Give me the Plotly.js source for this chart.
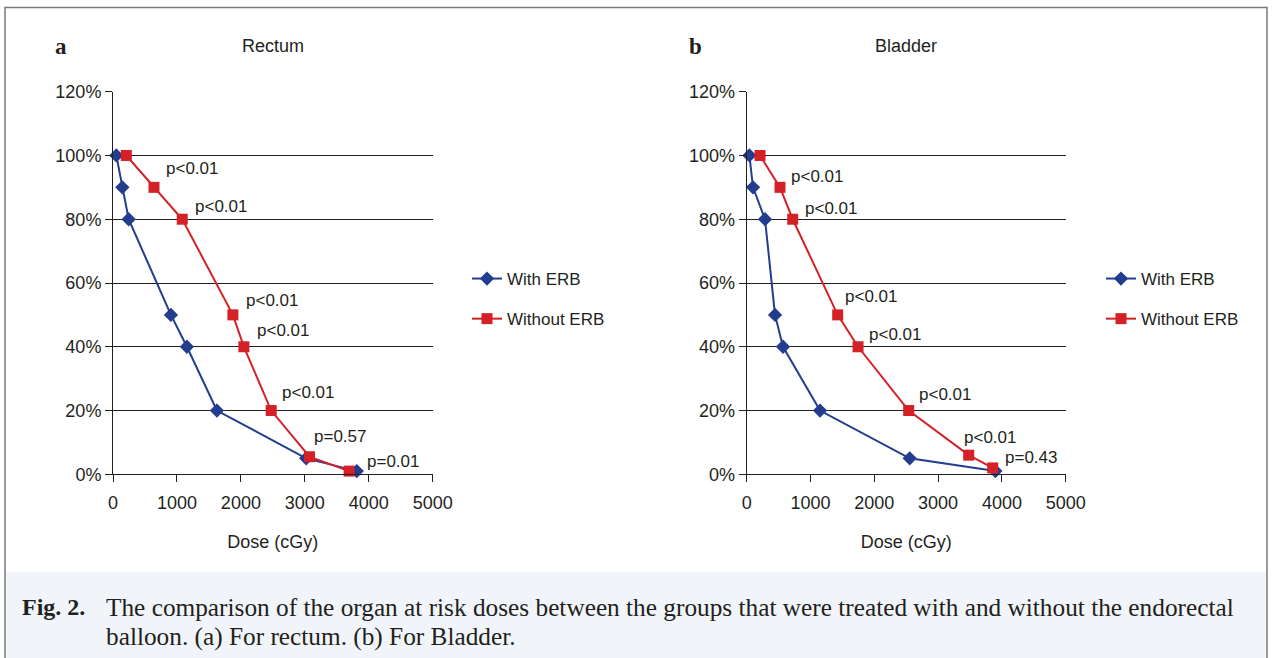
<!DOCTYPE html>
<html>
<head>
<meta charset="utf-8">
<script src="https://cdn.plot.ly/plotly-3.0.1.min.js"></script>
<style>html,body{margin:0;padding:0;background:#fff;}#chart{width:1272px;height:658px;}</style>
</head>
<body>
<div id="chart"></div>
<script>
// ---- data ----
const rectumWithDose    = [52, 146, 245, 906, 1156, 1625, 3021, 3813];
const rectumWithVol     = [100, 90, 80, 50, 40, 20, 5, 1];
const rectumWithoutDose = [208, 641, 1083, 1875, 2047, 2474, 3073, 3693];
const rectumWithoutVol  = [100, 90, 80, 50, 40, 20, 5.5, 1];
const rectumP = ["", "p<0.01", "p<0.01", "p<0.01", "p<0.01", "p<0.01", "p=0.57", "p=0.01"];

const bladderWithDose    = [42, 99, 287, 444, 569, 1149, 2555, 3898];
const bladderWithVol     = [100, 90, 80, 50, 40, 20, 5, 1];
const bladderWithoutDose = [209, 522, 721, 1426, 1745, 2539, 3480, 3856];
const bladderWithoutVol  = [100, 90, 80, 50, 40, 20, 6, 2];
const bladderP = ["", "p<0.01", "p<0.01", "p<0.01", "p<0.01", "p<0.01", "p<0.01", "p=0.43"];

const seriesNames = ["With ERB", "Without ERB"];
const panelTitles = ["Rectum", "Bladder"];
const panelLetters = ["a", "b"];
const xTitle = "Dose (cGy)";
const captionLabel = "Fig. 2.";
const captionLines = [
  "The comparison of the organ at risk doses between the groups that were treated with and without the endorectal",
  "balloon. (a) For rectum. (b) For Bladder."
];

// label pixel offsets (style only)
const rectumShift  = [[0,0],[10,19],[11,13],[11,14],[11,16],[9,18],[3,20],[16,10]];
const bladderShift = [[0,0],[9,11],[10,11],[5,18],[9,12],[8,16],[-7,18],[10,10]];

// ---- styling ----
const W = 1272, H = 658;
const BLUE = "#233d8e", RED = "#d42027";
const FONT = "Liberation Sans, Arial, sans-serif";
const SERIF = "Liberation Serif, Times New Roman, serif";
const INK = "#231f20";

function px(v){ return v / W; }
function py(v){ return (H - v) / H; }

const yDom = [py(474.3), py(91.7)];
const xDom1 = [px(113), px(432.7)];
const xDom2 = [px(746.7), px(1065.7)];

function blueTrace(x, y, xa, ya, lg){
  return {x, y, xaxis: xa, yaxis: ya, legend: lg, legendgroup: lg + "a", name: seriesNames[0],
    mode: "lines+markers", line: {color: BLUE, width: 2},
    marker: {symbol: "diamond", size: 11, color: BLUE}, cliponaxis: false};
}
function redTrace(x, y, xa, ya, lg){
  return {x, y, xaxis: xa, yaxis: ya, legend: lg, legendgroup: lg + "b", name: seriesNames[1],
    mode: "lines+markers", line: {color: RED, width: 2},
    marker: {symbol: "square", size: 11, color: RED}, cliponaxis: false};
}

const data = [
  blueTrace(rectumWithDose, rectumWithVol, "x", "y", "legend"),
  redTrace(rectumWithoutDose, rectumWithoutVol, "x", "y", "legend"),
  blueTrace(bladderWithDose, bladderWithVol, "x2", "y2", "legend2"),
  redTrace(bladderWithoutDose, bladderWithoutVol, "x2", "y2", "legend2")
];

const annotations = [];
function addP(xs, ys, labels, shifts, xr, yr){
  labels.forEach((t, i) => {
    if (!t) return;
    annotations.push({x: xs[i], y: ys[i], xref: xr, yref: yr, text: t, showarrow: false,
      xanchor: "left", yanchor: "middle", xshift: shifts[i][0], yshift: shifts[i][1],
      font: {family: FONT, size: 17, color: INK}});
  });
}
addP(rectumWithoutDose, rectumWithoutVol, rectumP, rectumShift, "x", "y");
addP(bladderWithoutDose, bladderWithoutVol, bladderP, bladderShift, "x2", "y2");

// titles and letters
["x domain", "x2 domain"].forEach((xr, i) => {
  annotations.push({xref: xr, yref: "paper", x: 0.5, y: py(46), text: panelTitles[i], showarrow: false,
    xanchor: "center", yanchor: "middle", font: {family: FONT, size: 18, color: INK}});
});
annotations.push({xref: "paper", yref: "paper", x: px(61), y: py(47), text: "<b>" + panelLetters[0] + "</b>", showarrow: false,
  xanchor: "center", yanchor: "middle", font: {family: SERIF, size: 23, color: INK}});
annotations.push({xref: "paper", yref: "paper", x: px(695), y: py(47), text: "<b>" + panelLetters[1] + "</b>", showarrow: false,
  xanchor: "center", yanchor: "middle", font: {family: SERIF, size: 23, color: INK}});

// caption
annotations.push({xref: "paper", yref: "paper", x: px(20), y: py(607), text: "<b>" + captionLabel + "</b>", showarrow: false,
  xanchor: "left", yanchor: "middle", font: {family: SERIF, size: 24, color: INK}});
captionLines.forEach((line, i) => {
  annotations.push({xref: "paper", yref: "paper", x: px(104), y: py(607 + 29 * i), text: line, showarrow: false,
    xanchor: "left", yanchor: "middle", align: "left", font: {family: SERIF, size: 25.3, color: INK}});
});

function xAxis(dom, anchor){
  return {domain: dom, anchor: anchor, range: [0, 5000], dtick: 1000, tick0: 0,
    ticks: "outside", ticklen: 7, tickcolor: INK, tickwidth: 1, ticklabelstandoff: 5,
    showline: true, linecolor: INK, linewidth: 1, showgrid: false, zeroline: false,
    tickfont: {family: FONT, size: 18, color: INK},
    title: {text: xTitle, font: {family: FONT, size: 18, color: INK}, standoff: 23}, automargin: false, fixedrange: true};
}
function yAxis(anchor){
  return {domain: yDom, anchor: anchor, range: [0, 120], dtick: 20, tick0: 0, ticksuffix: "%",
    ticks: "outside", ticklen: 7, tickcolor: INK, tickwidth: 1,
    showline: true, linecolor: INK, linewidth: 1, showgrid: true, gridcolor: INK, gridwidth: 1, zeroline: false,
    tickfont: {family: FONT, size: 18, color: INK}, automargin: false, fixedrange: true};
}

function legend(xp){
  return {x: px(xp), y: py(261), xanchor: "left", yanchor: "top", bgcolor: "rgba(0,0,0,0)",
    font: {family: FONT, size: 17, color: INK}, tracegroupgap: 15, traceorder: "grouped",
    itemclick: false, itemdoubleclick: false};
}

const layout = {
  width: W, height: H, margin: {l: 0, r: 0, t: 0, b: 0},
  paper_bgcolor: "#ffffff", plot_bgcolor: "#ffffff",
  showlegend: true,
  xaxis: xAxis(xDom1, "y"), yaxis: yAxis("x"),
  xaxis2: xAxis(xDom2, "y2"), yaxis2: yAxis("x2"),
  legend: legend(467), legend2: legend(1101),
  annotations: annotations,
  shapes: [
    {type: "rect", xref: "paper", yref: "paper", x0: px(5), x1: px(1267), y0: -0.05, y1: py(572),
      fillcolor: "#f1f5fa", line: {width: 0}, layer: "below"},
    {type: "rect", xref: "paper", yref: "paper", x0: px(5), x1: px(1267), y0: -0.05, y1: py(7.5),
      fillcolor: "rgba(0,0,0,0)", line: {color: "#7a7a7a", width: 1.5}, layer: "above"}
  ]
};

Plotly.newPlot("chart", data, layout, {displayModeBar: false, staticPlot: true});
</script>
</body>
</html>
